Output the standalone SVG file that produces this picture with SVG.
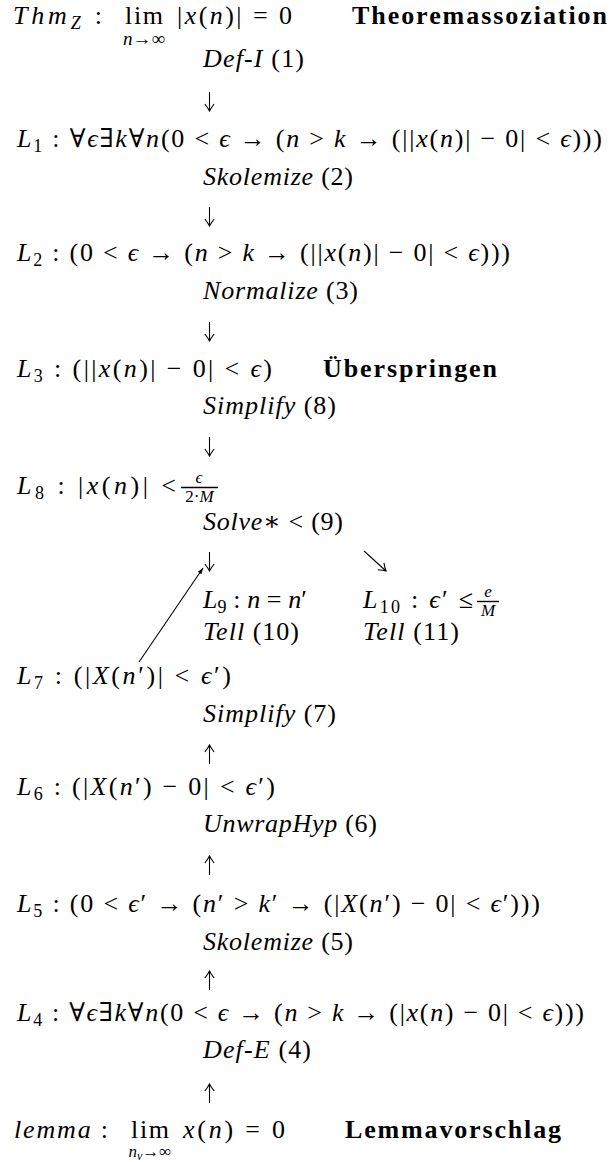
<svg xmlns="http://www.w3.org/2000/svg" width="612" height="1162" viewBox="0 0 612 1162" font-family="'Liberation Serif', 'Times New Roman', Times, serif">
<defs>
<style>
text{font-family:'Liberation Serif','Times New Roman',Times,'DejaVu Serif',serif;font-size:26px;fill:#000}
.i{font-style:italic}
.b{font-weight:bold}
.s{font-size:18px}
.t{font-size:17px}
.u{font-size:19px}
.a{stroke:#000;stroke-width:1.1;fill:none}
.fr{stroke:#000;stroke-width:1.4}
</style>
<marker id="tex" markerUnits="userSpaceOnUse" viewBox="-8 -6 10 12" markerWidth="10" markerHeight="12" refX="0" refY="0" orient="auto" overflow="visible">
<path d="M-7,-4.6 Q-2.5,-1.2 0,0 Q-2.5,1.2 -7,4.6" fill="none" stroke="#000" stroke-width="1.1"/>
</marker>
<marker id="vec" markerUnits="userSpaceOnUse" viewBox="-7 -4 8 8" markerWidth="8" markerHeight="8" refX="0" refY="0" orient="auto" overflow="visible">
<path d="M-6,-2.2 L0,0 L-6,2.2 Z" fill="#000"/>
</marker>
</defs>
<rect width="612" height="1162" fill="#fff"/>

<g id="connectors">
<line class="a" x1="209.5" y1="92" x2="209.5" y2="111" marker-end="url(#tex)"/>
<line class="a" x1="209.5" y1="207" x2="209.5" y2="226" marker-end="url(#tex)"/>
<line class="a" x1="209.5" y1="322" x2="209.5" y2="341" marker-end="url(#tex)"/>
<line class="a" x1="209.5" y1="437" x2="209.5" y2="456" marker-end="url(#tex)"/>
<line class="a" x1="209.5" y1="552" x2="209.5" y2="571" marker-end="url(#tex)"/>
<line class="a" x1="364" y1="551" x2="386" y2="571" marker-end="url(#tex)"/>
<line class="a" x1="139" y1="662" x2="203" y2="568" marker-end="url(#vec)"/>
<line class="a" x1="209.5" y1="764" x2="209.5" y2="745" marker-end="url(#tex)"/>
<line class="a" x1="209.5" y1="875" x2="209.5" y2="856" marker-end="url(#tex)"/>
<line class="a" x1="209.5" y1="990" x2="209.5" y2="971" marker-end="url(#tex)"/>
<line class="a" x1="209.5" y1="1103" x2="209.5" y2="1084" marker-end="url(#tex)"/>
</g>

<g id="edge-labels">
<text x="203" y="67" textLength="101" lengthAdjust="spacing"><tspan class="i">Def-I</tspan> (1)</text>
<text x="203" y="185" textLength="150" lengthAdjust="spacing"><tspan class="i">Skolemize</tspan> (2)</text>
<text x="203" y="299" textLength="155" lengthAdjust="spacing"><tspan class="i">Normalize</tspan> (3)</text>
<text x="203" y="414" textLength="133" lengthAdjust="spacing"><tspan class="i">Simplify</tspan> (8)</text>
<text x="203" y="530" textLength="140" lengthAdjust="spacing"><tspan class="i">Solve</tspan>∗ &lt; (9)</text>
<text x="203" y="640" textLength="96" lengthAdjust="spacing"><tspan class="i">Tell</tspan> (10)</text>
<text x="363" y="640" textLength="96" lengthAdjust="spacing"><tspan class="i">Tell</tspan> (11)</text>
<text x="203" y="722" textLength="133" lengthAdjust="spacing"><tspan class="i">Simplify</tspan> (7)</text>
<text x="203" y="832" textLength="174" lengthAdjust="spacing"><tspan class="i">UnwrapHyp</tspan> (6)</text>
<text x="203" y="950" textLength="150" lengthAdjust="spacing"><tspan class="i">Skolemize</tspan> (5)</text>
<text x="203" y="1058" textLength="108" lengthAdjust="spacing"><tspan class="i">Def-E</tspan> (4)</text>
</g>

<g id="thm">
<text x="13" y="24" textLength="89" lengthAdjust="spacing"><tspan class="i">Thm</tspan><tspan class="s i" dy="5">Z</tspan><tspan dy="-5"> :</tspan></text>
<text x="125" y="24" textLength="38" lengthAdjust="spacing">lim</text>
<text class="u" x="144" y="45" text-anchor="middle"><tspan class="i">n</tspan>→∞</text>
<text x="177" y="24" textLength="115" lengthAdjust="spacing">|<tspan class="i">x</tspan>(<tspan class="i">n</tspan>)| = 0</text>
<text class="b" x="352" y="24" textLength="255" lengthAdjust="spacing">Theoremassoziation</text>
</g>

<g id="L1">
<text x="17" y="147" textLength="585" lengthAdjust="spacing"><tspan class="i">L</tspan><tspan class="s" dy="5">1</tspan><tspan dy="-5"> : ∀</tspan><tspan class="i">ϵ</tspan>∃<tspan class="i">k</tspan>∀<tspan class="i">n</tspan>(0 &lt; <tspan class="i">ϵ</tspan> → (<tspan class="i">n</tspan> &gt; <tspan class="i">k</tspan> → (||<tspan class="i">x</tspan>(<tspan class="i">n</tspan>)| − 0| &lt; <tspan class="i">ϵ</tspan>)))</text>
</g>

<g id="L2">
<text x="17" y="261" textLength="493" lengthAdjust="spacing"><tspan class="i">L</tspan><tspan class="s" dy="5">2</tspan><tspan dy="-5"> : (0 &lt; </tspan><tspan class="i">ϵ</tspan> → (<tspan class="i">n</tspan> &gt; <tspan class="i">k</tspan> → (||<tspan class="i">x</tspan>(<tspan class="i">n</tspan>)| − 0| &lt; <tspan class="i">ϵ</tspan>)))</text>
</g>

<g id="L3">
<text x="17" y="377" textLength="255" lengthAdjust="spacing"><tspan class="i">L</tspan><tspan class="s" dy="5">3</tspan><tspan dy="-5"> : (||</tspan><tspan class="i">x</tspan>(<tspan class="i">n</tspan>)| − 0| &lt; <tspan class="i">ϵ</tspan>)</text>
<text class="b" x="323" y="377" textLength="174" lengthAdjust="spacing">Überspringen</text>
</g>

<g id="L8">
<text x="17" y="494" textLength="159" lengthAdjust="spacing"><tspan class="i">L</tspan><tspan class="s" dy="5">8</tspan><tspan dy="-5"> : |</tspan><tspan class="i">x</tspan>(<tspan class="i">n</tspan>)| &lt;</text>
<text class="t i" x="199" y="483" text-anchor="middle">ϵ</text>
<line class="fr" x1="181" y1="487.5" x2="218" y2="487.5"/>
<text class="t" x="199.5" y="502" text-anchor="middle">2·<tspan class="i">M</tspan></text>
</g>

<g id="L9">
<text x="203" y="608" textLength="104" lengthAdjust="spacing"><tspan class="i">L</tspan><tspan class="s" dy="5">9</tspan><tspan dy="-5"> : </tspan><tspan class="i">n</tspan> = <tspan class="i">n</tspan>′</text>
</g>

<g id="L10">
<text x="363" y="608" textLength="110" lengthAdjust="spacing"><tspan class="i">L</tspan><tspan class="s" dy="5">10</tspan><tspan dy="-5"> : </tspan><tspan class="i">ϵ</tspan>′ ≤</text>
<text class="t i" x="488" y="597" text-anchor="middle">e</text>
<line class="fr" x1="477" y1="601.5" x2="499" y2="601.5"/>
<text class="t i" x="488" y="616" text-anchor="middle">M</text>
</g>

<g id="L7">
<text x="17" y="684" textLength="214" lengthAdjust="spacing"><tspan class="i">L</tspan><tspan class="s" dy="5">7</tspan><tspan dy="-5"> : (|</tspan><tspan class="i">X</tspan>(<tspan class="i">n</tspan>′)| &lt; <tspan class="i">ϵ</tspan>′)</text>
</g>

<g id="L6">
<text x="17" y="795" textLength="258" lengthAdjust="spacing"><tspan class="i">L</tspan><tspan class="s" dy="5">6</tspan><tspan dy="-5"> : (|</tspan><tspan class="i">X</tspan>(<tspan class="i">n</tspan>′) − 0| &lt; <tspan class="i">ϵ</tspan>′)</text>
</g>

<g id="L5">
<text x="17" y="912" textLength="523" lengthAdjust="spacing"><tspan class="i">L</tspan><tspan class="s" dy="5">5</tspan><tspan dy="-5"> : (0 &lt; </tspan><tspan class="i">ϵ</tspan>′ → (<tspan class="i">n</tspan>′ &gt; <tspan class="i">k</tspan>′ → (|<tspan class="i">X</tspan>(<tspan class="i">n</tspan>′) − 0| &lt; <tspan class="i">ϵ</tspan>′)))</text>
</g>

<g id="L4">
<text x="17" y="1021" textLength="567" lengthAdjust="spacing"><tspan class="i">L</tspan><tspan class="s" dy="5">4</tspan><tspan dy="-5"> : ∀</tspan><tspan class="i">ϵ</tspan>∃<tspan class="i">k</tspan>∀<tspan class="i">n</tspan>(0 &lt; <tspan class="i">ϵ</tspan> → (<tspan class="i">n</tspan> &gt; <tspan class="i">k</tspan> → (|<tspan class="i">x</tspan>(<tspan class="i">n</tspan>) − 0| &lt; <tspan class="i">ϵ</tspan>)))</text>
</g>

<g id="lemma">
<text x="14" y="1138" textLength="94" lengthAdjust="spacing"><tspan class="i">lemma</tspan> :</text>
<text x="131" y="1138" textLength="38" lengthAdjust="spacing">lim</text>
<text class="t" x="150" y="1157" text-anchor="middle"><tspan class="i">n</tspan><tspan class="i" font-size="12" dy="3">v</tspan><tspan dy="-3">→∞</tspan></text>
<text x="183" y="1138" textLength="102" lengthAdjust="spacing"><tspan class="i">x</tspan>(<tspan class="i">n</tspan>) = 0</text>
<text class="b" x="345" y="1138" textLength="216" lengthAdjust="spacing">Lemmavorschlag</text>
</g>
</svg>
